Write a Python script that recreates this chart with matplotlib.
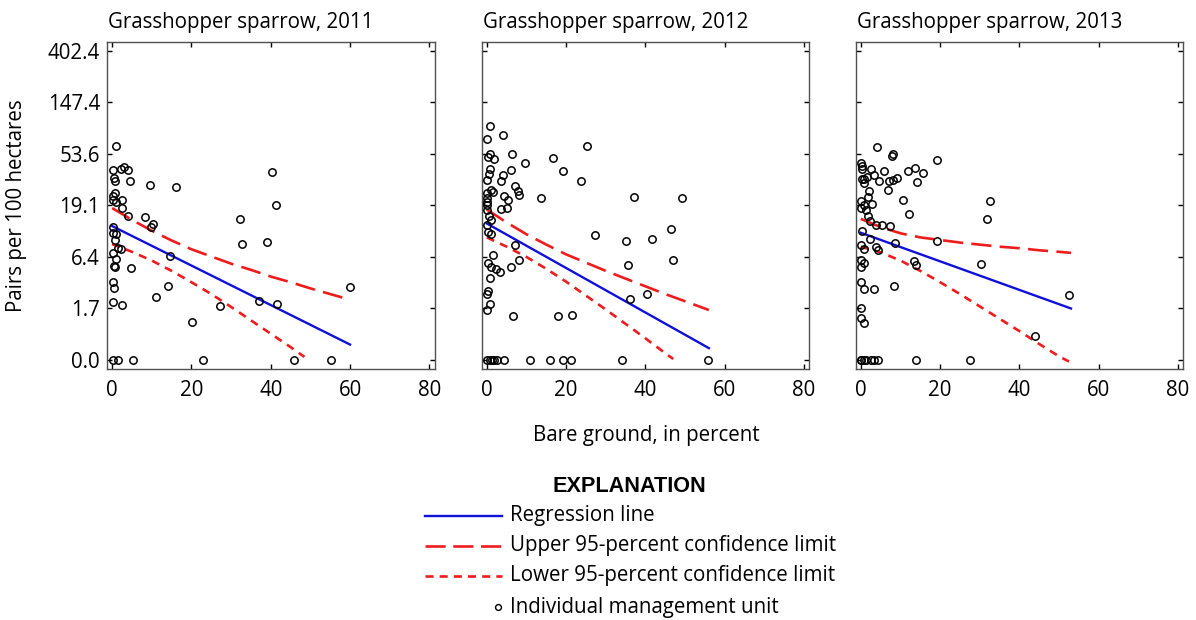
import numpy as np
import matplotlib
matplotlib.use("Agg")
import matplotlib.pyplot as plt
from matplotlib.lines import Line2D

plt.rcParams['font.family'] = ['Open Sans', 'DejaVu Sans']
plt.rcParams['lines.scale_dashes'] = False

# ---------------- data ----------------
years = ["2011", "2012", "2013"]
species = "Grasshopper sparrow"

# bare ground (percent) and ln(1 + pairs per 100 hectares)
bare_2011 = [0.9, 0.1, 2.2, 3.0, 4.1, 0.5, 0.8, 4.4, 9.6, 16.2, 0.8, 0.1, 0.3, 2.6, 0.9,
             2.4, 3.9, 8.3, 10.4, 9.8, 0.1, 0.3, 1.0, 0.8, 1.6, 2.2, 0.3, 1.0, 0.5, 0.8,
             4.7, 14.6, 0.1, 0.5, 14.2, 0.1, 2.4, 11.1,
             40.3, 41.2, 32.3, 32.7, 39.1, 60.1, 27.1, 37.1, 41.7, 20.1,
             0.3, 1.6, 5.2, 22.9, 45.8, 55.2]
logpairs_2011 = [4.16, 3.69, 3.70, 3.74, 3.69, 3.53, 3.48, 3.48, 3.40, 3.35, 3.25, 3.19, 3.11, 3.11, 3.07,
                 2.96, 2.80, 2.77, 2.64, 2.58, 2.59, 2.47, 2.45, 2.33, 2.17, 2.15, 2.08, 1.97, 1.83, 1.80,
                 1.78, 2.02, 1.52, 1.39, 1.44, 1.13, 1.07, 1.22,
                 3.65, 3.01, 2.74, 2.25, 2.29, 1.42, 1.05, 1.14, 1.09, 0.74,
                 0.0, 0.0, 0.0, 0.0, 0.0, 0.0]

bare_2012 = [0.8, 0.0, 4.0, 0.7, 1.7, 0.2, 6.4, 9.5, 16.6, 0.7, 0.5, 6.0, 0.0, 4.0, 3.6,
             1.1, 1.5, 0.0, 7.0, 7.8, 8.1, 4.4, 5.3, 13.7, 0.0, 0.0, 0.0, 0.1, 3.6, 5.0,
             0.5, 1.1, 0.0, 0.2, 1.1, 7.2, 8.2, 1.5, 0.2, 1.1, 2.2, 3.2, 6.1, 0.8, 0.2,
             0.0, 0.8, 0.0, 6.6,
             25.2, 19.2, 23.8, 37.0, 49.2, 27.4, 35.1, 41.7, 46.5, 35.7, 46.9, 36.1, 40.3, 18.0, 21.5,
             0.0, 0.7, 1.3, 1.8, 2.5, 4.4, 10.9, 16.0, 19.3, 21.2, 34.2, 55.9]
logpairs_2012 = [4.55, 4.29, 4.36, 4.00, 3.90, 3.94, 4.00, 3.83, 3.92, 3.70, 3.62, 3.69, 3.50, 3.59, 3.48,
                 3.31, 3.27, 3.24, 3.37, 3.29, 3.20, 3.18, 3.11, 3.14, 3.14, 3.07, 3.01, 2.91, 2.93, 2.96,
                 2.80, 2.72, 2.62, 2.49, 2.45, 2.23, 1.94, 2.04, 1.89, 1.81, 1.76, 1.70, 1.81, 1.59, 1.34,
                 1.28, 1.09, 0.98, 0.86,
                 4.16, 3.67, 3.48, 3.17, 3.15, 2.43, 2.32, 2.34, 2.54, 1.84, 1.94, 1.19, 1.28, 0.85, 0.88,
                 0.0, 0.0, 0.0, 0.0, 0.0, 0.0, 0.0, 0.0, 0.0, 0.0, 0.0, 0.0]

bare_2013 = [4.0, 7.9, 8.2, 0.1, 0.2, 0.3, 2.6, 3.2, 5.8, 4.5, 0.9, 1.6, 0.3, 0.7, 7.2,
             8.0, 9.2, 6.8, 11.8, 13.7, 15.6, 14.1, 2.0, 1.7, 10.6, 0.0, 0.9, 2.8, 0.1, 1.2,
             12.1, 1.7, 2.2, 3.9, 5.4, 7.4, 0.3, 2.3, 8.7, 0.1, 0.7, 3.9, 4.3, 0.0, 0.7,
             0.1, 13.5, 13.9, 0.1, 0.9, 3.2, 8.3, 0.1, 0.1, 0.7,
             19.1, 32.6, 31.8, 19.1, 30.3, 52.4, 44.0,
             0.0, 0.1, 0.7, 1.3, 2.6, 3.4, 4.3, 13.8, 27.6]
logpairs_2013 = [4.13, 3.96, 4.00, 3.82, 3.77, 3.70, 3.70, 3.59, 3.67, 3.47, 3.52, 3.56, 3.52, 3.43, 3.47,
                 3.49, 3.54, 3.31, 3.67, 3.73, 3.63, 3.46, 3.29, 3.17, 3.11, 3.08, 3.01, 3.03, 2.95, 2.91,
                 2.83, 2.80, 2.69, 2.63, 2.63, 2.61, 2.50, 2.34, 2.27, 2.24, 2.16, 2.20, 2.13, 1.94, 1.88,
                 1.80, 1.93, 1.84, 1.51, 1.37, 1.38, 1.44, 1.01, 0.81, 0.71,
                 3.89, 3.08, 2.74, 2.32, 1.87, 1.26, 0.47,
                 0.0, 0.0, 0.0, 0.0, 0.0, 0.0, 0.0, 0.0, 0.0]

# regression lines (ln scale)
reg_x_2011 = [0, 60]
reg_y_2011 = [2.60, 0.30]
reg_x_2012 = [0, 56]
reg_y_2012 = [2.65, 0.23]
reg_x_2013 = [0, 53]
reg_y_2013 = [2.47, 1.00]

# 95-percent confidence limits (ln scale)
upper_x_2011 = [0, 5, 10, 15, 20, 25, 30, 35, 40, 45, 50, 55, 60]
upper_y_2011 = [2.95, 2.72, 2.51, 2.32, 2.15, 2.01, 1.87, 1.75, 1.62, 1.51, 1.39, 1.28, 1.17]
lower_x_2011 = [0, 5, 10, 15, 20, 25, 30, 35, 40, 45, 48.5]
lower_y_2011 = [2.25, 2.10, 1.93, 1.73, 1.51, 1.28, 1.03, 0.77, 0.51, 0.25, 0.06]

upper_x_2012 = [0, 5, 10, 15, 20, 25, 30, 35, 40, 45, 50, 56]
upper_y_2012 = [2.92, 2.67, 2.44, 2.24, 2.05, 1.89, 1.73, 1.58, 1.43, 1.28, 1.14, 0.97]
lower_x_2012 = [0, 5, 10, 15, 20, 25, 30, 35, 40, 45, 47]
lower_y_2012 = [2.38, 2.20, 2.00, 1.77, 1.52, 1.25, 0.98, 0.70, 0.42, 0.13, 0.02]

upper_x_2013 = [0, 5, 10, 15, 20, 25, 30, 35, 40, 45, 50, 53]
upper_y_2013 = [2.74, 2.58, 2.46, 2.38, 2.33, 2.28, 2.24, 2.20, 2.17, 2.13, 2.10, 2.08]
lower_x_2013 = [0, 5, 10, 15, 20, 25, 30, 35, 40, 45, 50, 52.5]
lower_y_2013 = [2.20, 2.09, 1.93, 1.73, 1.51, 1.28, 1.04, 0.80, 0.56, 0.31, 0.07, -0.03]

x_ticks = [0, 20, 40, 60, 80]
y_tick_values = [0.0, 1.718, 6.389, 19.09, 53.6, 147.4, 402.4]
y_tick_labels = ["0.0", "1.7", "6.4", "19.1", "53.6", "147.4", "402.4"]

x_label = "Bare ground, in percent"
y_label = "Pairs per 100 hectares"
legend_title = "EXPLANATION"
legend_labels = ["Regression line", "Upper 95-percent confidence limit",
                 "Lower 95-percent confidence limit", "Individual management unit"]

panels = [
    (bare_2011, logpairs_2011, reg_x_2011, reg_y_2011, upper_x_2011, upper_y_2011, lower_x_2011, lower_y_2011),
    (bare_2012, logpairs_2012, reg_x_2012, reg_y_2012, upper_x_2012, upper_y_2012, lower_x_2012, lower_y_2012),
    (bare_2013, logpairs_2013, reg_x_2013, reg_y_2013, upper_x_2013, upper_y_2013, lower_x_2013, lower_y_2013),
]

# ---------------- style ----------------
W, H = 1196, 620
BLUE = "#1010d8"
RED = "#ee1c1c"
LONG_DASH = (0, (14.5, 6.0))
SHORT_DASH = (0, (5.8, 4.6))
FS = 14.8

def fx(px):
    return px / W

def fy(py):
    return 1 - py / H

fig = plt.figure(figsize=(W / 100, H / 100), dpi=100)

ax_lefts = [107, 481.7, 855.7]
ax_w = 327.5
ax_top, ax_bot = 41.7, 369

for i, (year, data) in enumerate(zip(years, panels)):
    bx, by, rx, ry, ux, uy, lx, ly = data
    ax = fig.add_axes([fx(ax_lefts[i]), fy(ax_bot), ax_w / W, (ax_bot - ax_top) / H])
    ax.plot(rx, ry, color=BLUE, lw=1.7, zorder=3)
    ax.plot(ux, uy, color=RED, lw=1.9, linestyle=LONG_DASH, zorder=3)
    ax.plot(lx, ly, color=RED, lw=1.9, linestyle=SHORT_DASH, zorder=3)
    ax.plot(bx, by, linestyle='none', marker='o', ms=5.3, mfc='none', mec='black', mew=1.1, zorder=4)
    ax.set_xlim(-1.3, 81.3)
    ax.set_ylim(-0.175, 6.18)
    ax.set_xticks(x_ticks)
    ax.set_xticklabels([str(t) for t in x_ticks], fontsize=FS)
    ax.set_yticks(np.log1p(y_tick_values))
    if i == 0:
        ax.set_yticklabels(y_tick_labels, fontsize=FS)
    else:
        ax.set_yticklabels([])
    ax.tick_params(direction='in', top=True, right=True, length=3.8, width=1.0,
                   color='black', labelsize=FS)
    ax.tick_params(axis='x', pad=8)
    ax.tick_params(axis='y', pad=5)
    for s in ax.spines.values():
        s.set_color('#505050')
        s.set_linewidth(1.0)
    ax.set_title(f"{species}, {year}", loc='left', fontsize=FS, pad=10, x=0.004)

fig.text(fx(17), fy(206), y_label, rotation=90, ha='center', va='center', fontsize=FS)
fig.text(fx(646), fy(435), x_label, ha='center', va='center', fontsize=FS)

# ---------------- explanation ----------------
fig.text(fx(629), fy(487), legend_title, ha='center', va='center', fontsize=15.6,
         fontweight='bold', family=['Liberation Sans', 'DejaVu Sans'])
rows = [516, 546, 576, 607]
styles = [dict(color=BLUE, lw=1.7, linestyle='-'),
          dict(color=RED, lw=1.9, linestyle=(0, (14.5, 5.5))),
          dict(color=RED, lw=1.9, linestyle=(0, (5.8, 4.4)))]
for ry_, st in zip(rows[:3], styles):
    fig.add_artist(Line2D([fx(425), fx(502)], [fy(ry_), fy(ry_)], transform=fig.transFigure, **st))
fig.add_artist(Line2D([fx(498)], [fy(rows[3])], transform=fig.transFigure, linestyle='none',
                      marker='o', ms=4.2, mfc='none', mec='black', mew=1.0))
for ry_, lab in zip(rows, legend_labels):
    fig.text(fx(510), fy(ry_), lab, ha='left', va='center', fontsize=FS)

fig.savefig("out.png", dpi=100)
